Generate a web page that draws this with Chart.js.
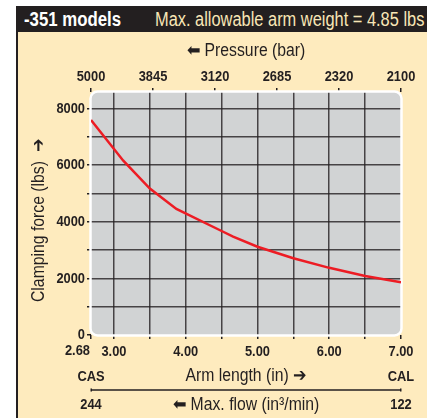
<!DOCTYPE html>
<html>
<head>
<meta charset="utf-8">
<script src="https://cdn.jsdelivr.net/npm/chart.js@4.4.1/dist/chart.umd.min.js"></script>
<style>
  html, body { margin: 0; padding: 0; background: #fff; }
  #wrap { position: relative; width: 427px; height: 418px; overflow: hidden;
          font-family: 'Liberation Sans', Arial, sans-serif; }
  #panel { position: absolute; left: 16px; top: 32px; right: 0; bottom: 0;
           background: #FEEBBE; border-left: 2px solid #231F20; }
  #header { position: absolute; left: 16px; top: 6px; right: 0; height: 26px;
            background: #231F20; line-height: 26px; white-space: nowrap; }
  #header span { position: absolute; top: 0; transform-origin: left center; }
  #header .model { left: 8px; color: #fff; font-weight: bold; font-size: 20px; transform: scaleX(0.84); }
  #header .weight { left: 139px; color: #F8E6B6; font-size: 20px; transform: scaleX(0.82); }
  canvas { position: absolute; left: 0; top: 0; }
</style>
</head>
<body>
<div id="wrap">
  <div id="panel"></div>
  <div id="header"><span class="model">-351 models</span><span class="weight">Max. allowable arm weight = 4.85 lbs</span></div>
  <canvas id="chart" width="427" height="418"></canvas>
</div>
<script>
const armLength = [2.68, 3.13, 3.5, 3.87, 4.5, 4.66, 5.0, 5.5, 6.0, 6.5, 7.0];
const clampingForce = [7590, 6150, 5170, 4450, 3670, 3470, 3115, 2710, 2370, 2080, 1860];
const armTicks = [2.68, 3.0, 3.5, 4.0, 4.5, 5.0, 5.5, 6.0, 6.5, 7.0];
const armLabels = ['3.00', '4.00', '5.00', '6.00', '7.00'];
const pressureLabels = ['5000', '3845', '3120', '2685', '2320', '2100'];
const forceTicks = [0, 1000, 2000, 3000, 4000, 5000, 6000, 7000, 8000];
const endLabels = ['CAS', 'CAL'];
const flowLabels = ['244', '122'];

const FONT = "'Liberation Sans', Arial, sans-serif";
const DARK = '#231F20';
const GRID = 'rgba(35,31,32,0.8)';

Chart.defaults.font.family = FONT;
Chart.defaults.color = DARK;

// squeeze Liberation Sans into a condensed look: bold a bit narrower than regular
const canvas = document.getElementById('chart');
const context = canvas.getContext('2d');
const rawFillText = context.fillText.bind(context);
context.fillText = function (text, x, y) {
  const squeeze = /bold/.test(this.font) ? 0.83 : 0.9;
  this.save();
  this.translate(x, y);
  this.scale(squeeze, 1);
  rawFillText(text, 0, 0);
  this.restore();
};

function roundRect(ctx, x, y, w, h, r) {
  ctx.beginPath();
  ctx.moveTo(x + r, y);
  ctx.arcTo(x + w, y, x + w, y + h, r);
  ctx.arcTo(x + w, y + h, x, y + h, r);
  ctx.arcTo(x, y + h, x, y, r);
  ctx.arcTo(x, y, x + w, y, r);
  ctx.closePath();
}

const panelPlugin = {
  id: 'panel',
  beforeDraw(chart) {
    const { ctx, chartArea: a } = chart;
    ctx.save();
    roundRect(ctx, a.left, a.top, a.right - a.left, a.bottom - a.top, 7);
    ctx.fillStyle = '#D1D3D4';
    ctx.fill();
    ctx.restore();
  },
  beforeDatasetsDraw(chart) {
    const { ctx, chartArea: a } = chart;
    ctx.save();
    roundRect(ctx, a.left - 0.5, a.top - 0.5, a.right - a.left + 1, a.bottom - a.top + 1, 7);
    ctx.strokeStyle = '#fff';
    ctx.lineWidth = 2.5;
    ctx.stroke();
    ctx.restore();
  },
  afterDraw(chart) {
    const { ctx } = chart;
    const x = chart.scales.x;
    const x0 = x.getPixelForValue(x.min);
    const x1 = x.getPixelForValue(x.max);
    ctx.save();
    ctx.fillStyle = DARK;
    ctx.textBaseline = 'middle';

    // y title, read bottom to top
    ctx.save();
    ctx.translate(39, 302);
    ctx.rotate(-Math.PI / 2);
    ctx.textAlign = 'left';
    ctx.font = '17.5px ' + FONT;
    ctx.fillText('Clamping force (lbs)  \u2794', 0, 0);
    ctx.restore();

    ctx.font = 'bold 15.5px ' + FONT;
    // first tick label sits left of its tick
    ctx.textAlign = 'right';
    ctx.fillText('2.68', x0 - 1, 351);
    ctx.textAlign = 'center';
    ctx.fillText(endLabels[0], x0, 377);
    ctx.fillText(endLabels[1], x1, 377);
    ctx.fillText(flowLabels[0], x0, 405);
    ctx.fillText(flowLabels[1], x1, 405);
    ctx.font = '17.5px ' + FONT;
    ctx.fillText('\u2B05 Max. flow (in\u00B3/min)', (x0 + x1) / 2, 405);
    ctx.strokeStyle = DARK;
    ctx.lineWidth = 1.5;
    ctx.beginPath();
    ctx.moveTo(x0, 390);
    ctx.lineTo(x1, 390);
    ctx.stroke();
    ctx.fillRect(x0 - 0.5, 388.5, 1.5, 3);
    ctx.fillRect(x1 - 1, 388.5, 1.5, 3);
    ctx.restore();
  }
};

new Chart(canvas, {
  type: 'line',
  data: {
    datasets: [{
      data: armLength.map((v, i) => ({ x: v, y: clampingForce[i] })),
      borderColor: '#ED1C24',
      borderWidth: 2.5,
      pointRadius: 0,
      tension: 0,
      fill: false
    }]
  },
  options: {
    responsive: false,
    animation: false,
    events: [],
    layout: { padding: { left: 0, right: 26, top: 0, bottom: 0 } },
    plugins: { legend: { display: false }, tooltip: { enabled: false } },
    scales: {
      x: {
        type: 'linear',
        position: 'bottom',
        min: 2.68,
        max: 7.0,
        afterBuildTicks: s => { s.ticks = armTicks.map(v => ({ value: v })); },
        afterFit: s => { s.height = 83; },
        border: { display: false },
        grid: {
          color: c => (c.tick && (c.tick.value === 2.68 || c.tick.value === 7)) ? 'rgba(0,0,0,0)' : GRID,
          tickColor: DARK,
          lineWidth: 1.5,
          tickLength: 4
        },
        ticks: {
          autoSkip: false,
          maxRotation: 0,
          padding: 3,
          font: { size: 15.5, weight: 'bold' },
          callback: v => (Number.isInteger(v) ? armLabels[v - 3] : '')
        },
        title: {
          display: true,
          text: 'Arm length (in) \u2794',
          font: { size: 17.5 },
          padding: { top: 0, bottom: 31 }
        }
      },
      top: {
        type: 'linear',
        position: 'top',
        min: 0,
        max: pressureLabels.length - 1,
        afterFit: s => { s.height = 92; },
        border: { display: false },
        grid: { drawOnChartArea: false, tickColor: DARK, lineWidth: 1.5, tickLength: 4 },
        ticks: {
          stepSize: 1,
          autoSkip: false,
          maxRotation: 0,
          padding: 2,
          font: { size: 15.5, weight: 'bold' },
          callback: v => pressureLabels[v]
        },
        title: {
          display: true,
          text: '\u2B05 Pressure (bar)',
          font: { size: 17.5 },
          padding: { top: 41, bottom: 0 }
        }
      },
      y: {
        type: 'linear',
        min: 0,
        max: 8575,
        afterBuildTicks: s => { s.ticks = forceTicks.map(v => ({ value: v })); },
        afterFit: s => { s.width = 91; },
        border: { display: false },
        grid: {
          color: c => (c.tick && c.tick.value === 0) ? 'rgba(0,0,0,0)' : GRID,
          tickColor: DARK,
          lineWidth: 1.5,
          tickLength: 4
        },
        ticks: {
          padding: 2,
          font: { size: 15.5, weight: 'bold' },
          callback: v => (v % 2000 === 0 ? String(v) : '')
        },
        title: { display: false }
      }
    }
  },
  plugins: [panelPlugin]
});
</script>
</body>
</html>
